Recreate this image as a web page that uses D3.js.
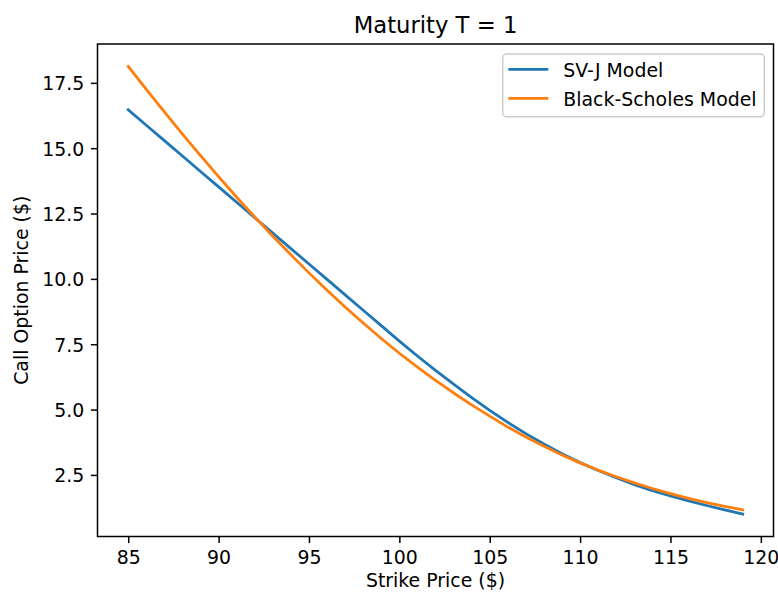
<!DOCTYPE html>
<html>
<head>
<meta charset="utf-8">
<script src="https://cdn.jsdelivr.net/npm/d3@7"></script>
<style>
  html, body { margin: 0; padding: 0; background: #fff; }
  svg { display: block; font-family: "DejaVu Sans", sans-serif; }
</style>
</head>
<body>
<svg id="chart" width="778" height="594"></svg>
<script>
// ---- data ----
const strikes = [85, 86, 87, 88, 89, 90, 91, 92, 93, 94, 95, 96, 97, 98, 99, 100,
  101, 102, 103, 104, 105, 106, 107, 108, 109, 110, 111, 112, 113, 114, 115, 116, 117, 118, 119];
const svjPrices = [16.47, 15.88, 15.29, 14.70, 14.11, 13.52, 12.93, 12.34, 11.75, 11.16, 10.57,
  9.98, 9.39, 8.80, 8.21, 7.62, 7.05, 6.50, 5.97, 5.46, 4.97, 4.51, 4.08, 3.68, 3.31, 2.97,
  2.67, 2.39, 2.13, 1.90, 1.70, 1.51, 1.33, 1.16, 1.00];
const bsPrices = [18.13, 17.25, 16.385, 15.54, 14.715, 13.91, 13.125, 12.365, 11.63, 10.92,
  10.23, 9.565, 8.925, 8.31, 7.72, 7.155, 6.62, 6.115, 5.635, 5.18, 4.75, 4.33, 3.95, 3.595,
  3.265, 2.96, 2.685, 2.43, 2.195, 1.98, 1.785, 1.605, 1.44, 1.30, 1.16];
const seriesNames = ["SV-J Model", "Black-Scholes Model"];
const xTicks = [85, 90, 95, 100, 105, 110, 115, 120];
const yTicks = [2.5, 5.0, 7.5, 10.0, 12.5, 15.0, 17.5];
const titleText = "Maturity T = 1";
const xLabel = "Strike Price ($)";
const yLabel = "Call Option Price ($)";

// ---- layout ----
const svg = d3.select("#chart");
const L = 97.5, R = 773.5, T = 44, B = 536.5;
const colors = ["#1f77b4", "#ff7f0e"];
const fs = 18.9;

const xExt = d3.extent(strikes);
const xPad = (xExt[1] - xExt[0]) * 0.05;
const allY = svjPrices.concat(bsPrices);
const yExt = d3.extent(allY);
const yPad = (yExt[1] - yExt[0]) * 0.05;

const x = d3.scaleLinear().domain([xExt[0] - xPad, xExt[1] + xPad]).range([L, R]);
const y = d3.scaleLinear().domain([yExt[0] - yPad, yExt[1] + yPad]).range([B, T]);

// clip
svg.append("defs").append("clipPath").attr("id", "clip")
  .append("rect").attr("x", L).attr("y", T).attr("width", R - L).attr("height", B - T);

// lines
const series = [svjPrices, bsPrices];
const line = d3.line().x((d, i) => x(strikes[i])).y(d => y(d));
const g = svg.append("g").attr("clip-path", "url(#clip)");
series.forEach((s, k) => {
  g.append("path").datum(s)
    .attr("fill", "none")
    .attr("stroke", colors[k])
    .attr("stroke-width", 2.8)
    .attr("stroke-linejoin", "round")
    .attr("stroke-linecap", "square")
    .attr("d", line);
});

// axes
const tickLen = 6.6, tickPad = 6.6;
const xAxis = d3.axisBottom(x).tickValues(xTicks).tickFormat(d3.format("d"))
  .tickSizeInner(tickLen).tickSizeOuter(0).tickPadding(tickPad);
const yAxis = d3.axisLeft(y).tickValues(yTicks).tickFormat(d3.format(".1f"))
  .tickSizeInner(tickLen).tickSizeOuter(0).tickPadding(tickPad);

const gx = svg.append("g").attr("transform", `translate(0,${B})`).call(xAxis);
const gy = svg.append("g").attr("transform", `translate(${L},0)`).call(yAxis);
[gx, gy].forEach(a => {
  a.select(".domain").remove();
  a.selectAll(".tick line").attr("stroke", "#000").attr("stroke-width", 1.5);
  a.selectAll(".tick text").attr("fill", "#000").attr("font-size", fs)
    .attr("font-family", "DejaVu Sans");
});
gx.selectAll(".tick text").attr("dy", null).attr("y", 0)
  .attr("transform", `translate(0,${tickLen + tickPad + 14.6})`);
gy.selectAll(".tick text").attr("dy", "0.36em");

// frame
svg.append("rect").attr("x", L).attr("y", T).attr("width", R - L).attr("height", B - T)
  .attr("fill", "none").attr("stroke", "#000").attr("stroke-width", 1.5);

// title
svg.append("text").attr("x", (L + R) / 2).attr("y", 32.5)
  .attr("text-anchor", "middle").attr("font-size", 22.7).attr("fill", "#000")
  .text(titleText);

// axis labels
svg.append("text").attr("x", (L + R) / 2).attr("y", 587)
  .attr("text-anchor", "middle").attr("font-size", fs).attr("fill", "#000")
  .text(xLabel);
svg.append("text")
  .attr("transform", `translate(28,${(T + B) / 2}) rotate(-90)`)
  .attr("text-anchor", "middle").attr("font-size", fs).attr("fill", "#000")
  .text(yLabel);

// legend
const legW = 261.6, legH = 62.7;
const legX = R - 9.2 - legW, legY = T + 10;
const leg = svg.append("g");
leg.append("rect").attr("x", legX).attr("y", legY).attr("width", legW).attr("height", legH)
  .attr("rx", 4).attr("ry", 4)
  .attr("fill", "#fff").attr("fill-opacity", 0.8)
  .attr("stroke", "#cccccc").attr("stroke-width", 1.5);
seriesNames.forEach((name, k) => {
  const cy = legY + 15.3 + k * 29;
  leg.append("line").attr("x1", legX + 5.6).attr("x2", legX + 45.6)
    .attr("y1", cy).attr("y2", cy)
    .attr("stroke", colors[k]).attr("stroke-width", 2.8);
  leg.append("text").attr("x", legX + 60.6).attr("y", cy + 7.4)
    .attr("font-size", fs).attr("fill", "#000").text(name);
});
</script>
</body>
</html>
